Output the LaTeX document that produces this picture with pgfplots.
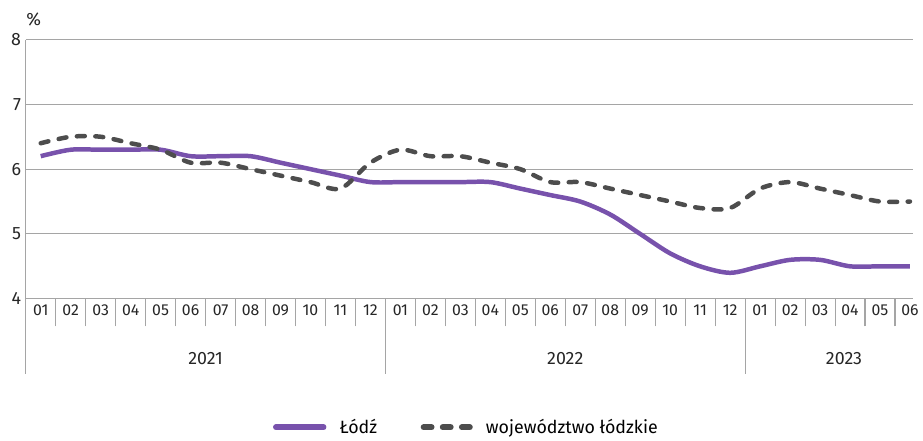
\documentclass[border=0pt]{standalone}
\usepackage{pgfplots}
\usepackage{pgfplotstable}
\pgfplotsset{compat=1.18}
\usepackage{fontspec}
\setmainfont{Fira Sans}
\definecolor{lodz}{RGB}{120,82,172}
\definecolor{woj}{RGB}{77,77,77}
\definecolor{gridc}{RGB}{165,165,165}
\newcommand{\tickfont}{\fontsize{12}{14}\selectfont}
\newcommand{\lblfont}{\fontsize{13.5}{16}\selectfont}

\pgfplotstableread{
i lodz woj
0 6.2 6.4
1 6.3 6.5
2 6.3 6.5
3 6.3 6.4
4 6.3 6.3
5 6.2 6.1
6 6.2 6.1
7 6.2 6.0
8 6.1 5.9
9 6.0 5.8
10 5.9 5.7
11 5.8 6.1
12 5.8 6.3
13 5.8 6.2
14 5.8 6.2
15 5.8 6.1
16 5.7 6.0
17 5.6 5.8
18 5.5 5.8
19 5.3 5.7
20 5.0 5.6
21 4.7 5.5
22 4.5 5.4
23 4.4 5.4
24 4.5 5.7
25 4.6 5.8
26 4.6 5.7
27 4.5 5.6
28 4.5 5.5
29 4.5 5.5
}\datatable

\begin{document}
\begin{tikzpicture}
\begin{axis}[
  scale only axis,
  width=672.75pt, height=196.5pt,
  xmin=-0.5, xmax=29.1, ymin=4, ymax=8,
  clip=false,
  axis x line*=bottom, axis y line*=left,
  axis line style={gridc, line width=0.8pt, -},
  ytick={4,5,6,7,8},
  ymajorgrids,
  grid style={gridc, line width=0.8pt},
  xtick={0,...,29},
  xticklabels={01,02,03,04,05,06,07,08,09,10,11,12,01,02,03,04,05,06,07,08,09,10,11,12,01,02,03,04,05,06},
  major tick length=0pt,
  extra x ticks={-0.5,0.5,...,28.5},
  extra x tick labels={},
  extra x tick style={major tick length=21pt, tick align=outside, xmajorgrids=false, tick style={gridc, line width=0.8pt}},
  /pgf/number format/assume math mode=true,
  tick label style={font=\tickfont, text=black!85},
  yticklabel style={font=\lblfont},
  xticklabel style={yshift=-1pt},
  legend style={draw=none, fill=none, at={(axis description cs:0.5,0)}, anchor=center, yshift=-97.5pt, xshift=-2pt,
    font=\lblfont, legend columns=2,
    /tikz/every even column/.append style={column sep=31pt},
    /tikz/every odd column/.append style={column sep=8pt}},
  legend cell align=left,
]
\addplot[lodz, line width=3.4pt, smooth, tension=0.5,
  legend image code/.code={\draw[lodz, line width=4.5pt, line cap=round] (0pt,0pt) -- (36pt,0pt);}]
  table[x=i, y=lodz] {\datatable};
\addlegendentry{Łódź}
\addplot[woj, line width=3.4pt, smooth, tension=0.5, line cap=round, dash pattern=on 6pt off 8pt,
  legend image code/.code={\draw[woj, line width=4.5pt, line cap=round, dash pattern=on 6pt off 8.5pt] (0pt,0pt) -- (35pt,0pt);}]
  table[x=i, y=woj] {\datatable};
\addlegendentry{województwo łódzkie}

\draw[gridc, line width=0.8pt] (axis cs:-0.5,4) -- ++(0pt,-57pt);
\draw[gridc, line width=0.8pt] (axis cs:11.5,4) -- ++(0pt,-57pt);
\draw[gridc, line width=0.8pt] (axis cs:23.5,4) -- ++(0pt,-57pt);
\node[font=\lblfont, text=black!85] at ([yshift=-45pt]axis cs:5.5,4) {2021};
\node[font=\lblfont, text=black!85] at ([yshift=-45pt]axis cs:17.5,4) {2022};
\node[font=\lblfont, text=black!85] at ([yshift=-45pt]axis cs:26.8,4) {2023};
\node[font=\lblfont, text=black!85] at ([xshift=6pt, yshift=15pt]rel axis cs:0,1) {\%};
\end{axis}
\useasboundingbox (-19.5pt,-104.25pt) rectangle (672.75pt,226.5pt);
\end{tikzpicture}
\end{document}
